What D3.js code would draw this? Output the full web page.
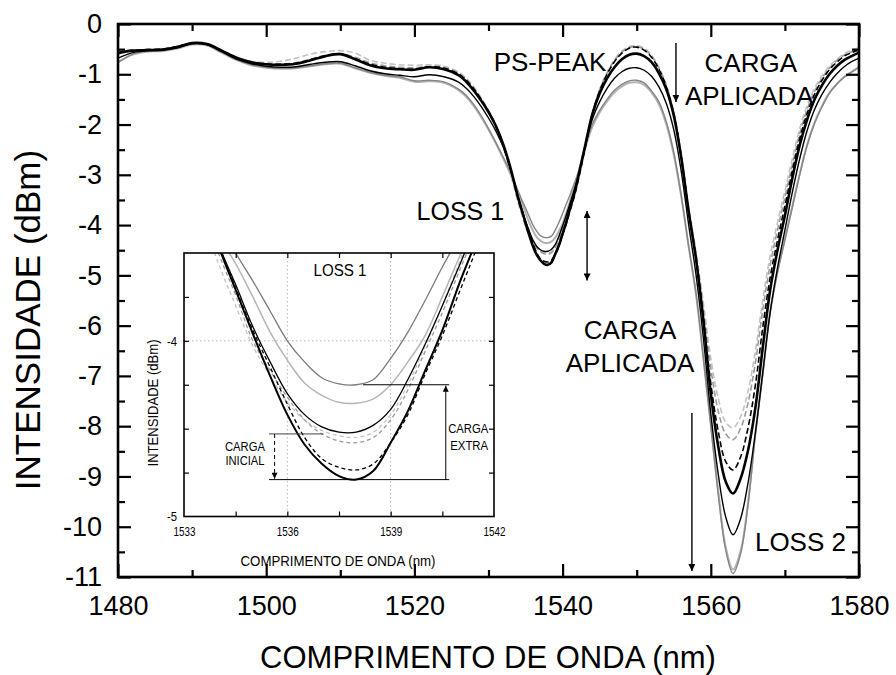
<!DOCTYPE html>
<html><head><meta charset="utf-8">
<script src="https://cdn.jsdelivr.net/npm/d3@7"></script>
<style>
body{margin:0;background:#fff}
svg{display:block}
text{font-family:"Liberation Sans",Arial,Helvetica,sans-serif;fill:#000}
</style>
</head><body>
<svg id="chart" width="896" height="675"></svg>
<script>
// ---------------- DATA ----------------
const wavelength = [1480,1482,1484,1486,1488,1490,1492,1494,1496,1498,1500,1502,1504,1506,1508,1510,1512,1514,1516,1518,1520,1522,1524,1526,
  1527,1528,1529,1530,1531,1532,1533,1534,
  1534.5,1535,1535.5,1536,1536.5,1537,1537.5,1538,1538.5,1539,1539.5,1540,1540.5,1541,1541.5,
  1542,1543,1544,1545,1546,1547,1548,1549,1550,1551,1552,1553,1554,1555,1556,1557,1558,1559,1560,1561,1562,1563,1564,1565,1566,1567,1568,1569,1570,1571,1572,1573,1574,1575,1576,1577,1578,1579,1580];

// black thick solid
const serieA = [-0.58,-0.53,-0.52,-0.51,-0.46,-0.38,-0.40,-0.53,-0.67,-0.76,-0.80,-0.81,-0.79,-0.72,-0.64,-0.60,-0.70,-0.82,-0.88,-0.90,-0.91,-0.86,-0.90,-1.02,
  -1.15,-1.32,-1.52,-1.75,-2.03,-2.40,-2.88,-3.46,
  -3.71,-3.96,-4.20,-4.42,-4.59,-4.70,-4.77,-4.79,-4.74,-4.58,-4.40,-4.17,-3.94,-3.67,-3.42,
  -3.12,-2.45,-1.80,-1.38,-1.08,-0.86,-0.70,-0.61,-0.59,-0.64,-0.76,-0.98,-1.30,-1.82,-2.65,-3.72,-4.67,-5.90,-7.35,-8.40,-9.10,-9.34,-9.05,-8.50,-7.65,-6.45,-5.30,-4.50,-3.81,-3.07,-2.41,-1.90,-1.50,-1.22,-1.00,-0.84,-0.72,-0.64,-0.57];
// black dashed
const serieB = [-0.57,-0.53,-0.51,-0.50,-0.45,-0.38,-0.41,-0.54,-0.68,-0.77,-0.80,-0.80,-0.78,-0.71,-0.63,-0.60,-0.69,-0.80,-0.86,-0.89,-0.90,-0.85,-0.88,-1.00,
  -1.12,-1.29,-1.50,-1.74,-2.03,-2.40,-2.90,-3.45,
  -3.70,-3.94,-4.15,-4.36,-4.55,-4.67,-4.72,-4.735,-4.70,-4.58,-4.42,-4.19,-3.97,-3.72,-3.47,
  -3.18,-2.50,-1.80,-1.33,-1.00,-0.75,-0.58,-0.48,-0.46,-0.52,-0.66,-0.90,-1.25,-1.78,-2.62,-3.70,-4.65,-5.85,-7.15,-8.10,-8.70,-8.87,-8.62,-8.05,-7.20,-6.05,-5.05,-4.30,-3.62,-2.92,-2.28,-1.78,-1.40,-1.12,-0.91,-0.76,-0.64,-0.57,-0.52];
// mid-gray dashed
const serieC = [-0.56,-0.52,-0.51,-0.50,-0.45,-0.38,-0.41,-0.54,-0.68,-0.77,-0.80,-0.80,-0.77,-0.70,-0.62,-0.59,-0.66,-0.77,-0.83,-0.86,-0.87,-0.84,-0.86,-0.98,
  -1.10,-1.27,-1.48,-1.73,-2.03,-2.42,-2.94,-3.50,
  -3.74,-4.00,-4.17,-4.32,-4.45,-4.53,-4.57,-4.58,-4.55,-4.45,-4.28,-4.06,-3.84,-3.60,-3.36,
  -3.08,-2.45,-1.80,-1.32,-0.98,-0.73,-0.56,-0.47,-0.45,-0.50,-0.64,-0.88,-1.23,-1.76,-2.60,-3.68,-4.60,-5.70,-6.85,-7.70,-8.15,-8.27,-8.05,-7.55,-6.75,-5.70,-4.80,-4.10,-3.45,-2.80,-2.18,-1.70,-1.34,-1.08,-0.88,-0.73,-0.62,-0.55,-0.50];
// light gray dashed
const serieD = [-0.55,-0.52,-0.51,-0.50,-0.45,-0.38,-0.41,-0.53,-0.66,-0.74,-0.76,-0.74,-0.68,-0.60,-0.55,-0.53,-0.58,-0.72,-0.78,-0.81,-0.82,-0.81,-0.84,-0.96,
  -1.08,-1.25,-1.47,-1.73,-2.05,-2.46,-3.00,-3.56,
  -3.80,-4.03,-4.20,-4.35,-4.45,-4.51,-4.54,-4.55,-4.52,-4.42,-4.25,-4.03,-3.80,-3.55,-3.30,
  -3.03,-2.42,-1.78,-1.30,-0.96,-0.71,-0.54,-0.45,-0.43,-0.48,-0.62,-0.86,-1.22,-1.75,-2.58,-3.62,-4.52,-5.55,-6.65,-7.45,-7.92,-8.03,-7.82,-7.32,-6.52,-5.50,-4.62,-3.95,-3.32,-2.68,-2.08,-1.62,-1.28,-1.03,-0.84,-0.70,-0.59,-0.52,-0.48];
// black thin solid
const serieE = [-0.68,-0.57,-0.53,-0.52,-0.47,-0.39,-0.41,-0.55,-0.70,-0.79,-0.84,-0.86,-0.85,-0.80,-0.76,-0.75,-0.83,-0.93,-0.99,-1.02,-1.05,-1.01,-1.05,-1.16,
  -1.28,-1.44,-1.64,-1.87,-2.13,-2.45,-2.90,-3.45,
  -3.68,-3.92,-4.12,-4.30,-4.42,-4.49,-4.52,-4.52,-4.48,-4.39,-4.22,-4.02,-3.80,-3.57,-3.33,
  -3.08,-2.48,-1.90,-1.55,-1.28,-1.08,-0.95,-0.88,-0.87,-0.92,-1.04,-1.25,-1.58,-2.10,-2.92,-3.98,-4.98,-6.25,-7.75,-8.95,-9.80,-10.16,-9.85,-9.15,-8.15,-6.95,-5.75,-4.85,-4.10,-3.35,-2.68,-2.12,-1.70,-1.40,-1.17,-0.99,-0.85,-0.75,-0.68];
// light gray solid
const serieF = [-0.76,-0.61,-0.55,-0.54,-0.49,-0.41,-0.43,-0.57,-0.72,-0.82,-0.87,-0.89,-0.88,-0.84,-0.80,-0.79,-0.88,-0.97,-1.03,-1.07,-1.15,-1.14,-1.17,-1.32,
  -1.45,-1.63,-1.85,-2.10,-2.38,-2.68,-3.00,-3.40,
  -3.56,-3.75,-3.95,-4.11,-4.24,-4.31,-4.35,-4.355,-4.33,-4.25,-4.12,-3.97,-3.75,-3.52,-3.28,
  -3.05,-2.50,-2.05,-1.76,-1.54,-1.36,-1.24,-1.17,-1.16,-1.21,-1.36,-1.60,-2.00,-2.60,-3.42,-4.42,-5.38,-6.65,-7.95,-9.28,-10.40,-10.85,-10.50,-9.55,-8.15,-6.95,-5.72,-4.92,-4.27,-3.62,-2.98,-2.40,-1.96,-1.63,-1.37,-1.19,-1.05,-0.95,-0.85];
// dark gray solid
const serieG = [-0.77,-0.60,-0.54,-0.53,-0.48,-0.40,-0.42,-0.56,-0.71,-0.81,-0.86,-0.88,-0.87,-0.83,-0.79,-0.78,-0.87,-0.96,-1.02,-1.05,-1.13,-1.12,-1.15,-1.30,
  -1.42,-1.60,-1.82,-2.08,-2.36,-2.65,-2.96,-3.32,
  -3.50,-3.66,-3.83,-4.00,-4.12,-4.21,-4.245,-4.25,-4.22,-4.10,-3.95,-3.77,-3.58,-3.40,-3.20,
  -3.00,-2.45,-2.00,-1.72,-1.50,-1.32,-1.20,-1.13,-1.12,-1.17,-1.33,-1.55,-1.95,-2.55,-3.40,-4.40,-5.35,-6.65,-8.00,-9.35,-10.45,-10.93,-10.55,-9.60,-8.20,-7.00,-5.75,-4.95,-4.30,-3.65,-3.00,-2.42,-1.98,-1.65,-1.38,-1.20,-1.06,-0.96,-0.86];

const xMajorTicks = [1480,1500,1520,1540,1560,1580];
const xMinorTicks = [1490,1510,1530,1550,1570];
const yMajorTicks = [0,-1,-2,-3,-4,-5,-6,-7,-8,-9,-10,-11];
const yMinorTicks = [-0.5,-1.5,-2.5,-3.5,-4.5,-5.5,-6.5,-7.5,-8.5,-9.5,-10.5];
const insetXLabels = [1533,1536,1539,1542];
const insetXTicks = [1534.5,1536,1537.5,1539,1540.5];
const insetYLabels = [-4,-5];
const insetYTicks = [-3.75,-4,-4.25,-4.5,-4.75];

const xTitle = "COMPRIMENTO DE ONDA (nm)";
const yTitle = "INTENSIDADE (dBm)";

// ---------------- STYLES ----------------
const styles = {
  D:{series:serieD, main:{c:"#c3c3c3",w:1.6,d:"6,3"}, inset:{c:"#c3c3c3",w:1.3,d:"4,3"}},
  C:{series:serieC, main:{c:"#9a9a9a",w:1.6,d:"6,3"}, inset:{c:"#9a9a9a",w:1.3,d:"4,3"}},
  F:{series:serieF, main:{c:"#b3b3b3",w:2.0,d:null}, inset:{c:"#b5b5b5",w:1.5,d:null}},
  G:{series:serieG, main:{c:"#858585",w:1.4,d:null}, inset:{c:"#7a7a7a",w:1.3,d:null}},
  E:{series:serieE, main:{c:"#000",w:1.4,d:null}, inset:{c:"#000",w:1.3,d:null}},
  B:{series:serieB, main:{c:"#000",w:1.6,d:"6,3"}, inset:{c:"#000",w:1.3,d:"4,3"}},
  A:{series:serieA, main:{c:"#000",w:2.6,d:null}, inset:{c:"#000",w:2.0,d:null}}
};
const drawOrder = ["D","C","F","G","E","B","A"];

// ---------------- CHART ----------------
const svg = d3.select("#chart");
const W = 896, H = 675;
svg.append("rect").attr("width",W).attr("height",H).attr("fill","#fff");

const x = d3.scaleLinear().domain([1480,1580]).range([118,859]);
const y = d3.scaleLinear().domain([0,-11]).range([24,577]);

const defs = svg.append("defs");
defs.append("clipPath").attr("id","clipMain").append("rect")
  .attr("x",x(1480)).attr("y",y(0)).attr("width",x(1580)-x(1480)).attr("height",y(-11)-y(0));

function marker(id, w, h){
  defs.append("marker").attr("id",id).attr("viewBox","0 0 10 10")
    .attr("refX",10).attr("refY",5).attr("markerUnits","userSpaceOnUse")
    .attr("markerWidth",w).attr("markerHeight",h).attr("orient","auto-start-reverse")
    .append("path").attr("d","M0,0 L10,5 L0,10 z").attr("fill","#000");
}
marker("arr",10,7);
marker("arrS",8,6);

const pts = (s) => wavelength.map((w,i)=>[w,s[i]]);

// main curves
const gMain = svg.append("g").attr("clip-path","url(#clipMain)");
const lineMain = d3.line().x(d=>x(d[0])).y(d=>y(d[1])).curve(d3.curveCatmullRom.alpha(0.5));
drawOrder.forEach(k=>{
  const st = styles[k];
  gMain.append("path").datum(pts(st.series)).attr("d",lineMain)
    .attr("fill","none").attr("stroke",st.main.c).attr("stroke-width",st.main.w)
    .attr("stroke-dasharray",st.main.d).attr("stroke-linejoin","round");
});

// main axes (ticks inward)
const fmt = d=>String(d);
const axB = svg.append("g").attr("transform",`translate(0,${y(-11)})`)
  .call(d3.axisBottom(x).tickValues(xMajorTicks).tickSize(-13).tickPadding(19).tickFormat(fmt));
const axBm = svg.append("g").attr("transform",`translate(0,${y(-11)})`)
  .call(d3.axisBottom(x).tickValues(xMinorTicks).tickSize(-7).tickFormat(""));
const axT = svg.append("g").attr("transform",`translate(0,${y(0)})`)
  .call(d3.axisTop(x).tickValues(xMajorTicks).tickSize(-13).tickFormat(""));
const axTm = svg.append("g").attr("transform",`translate(0,${y(0)})`)
  .call(d3.axisTop(x).tickValues(xMinorTicks).tickSize(-7).tickFormat(""));
const axL = svg.append("g").attr("transform",`translate(${x(1480)},0)`)
  .call(d3.axisLeft(y).tickValues(yMajorTicks).tickSize(-13).tickPadding(16).tickFormat(fmt));
const axLm = svg.append("g").attr("transform",`translate(${x(1480)},0)`)
  .call(d3.axisLeft(y).tickValues(yMinorTicks).tickSize(-7).tickFormat(""));
const axR = svg.append("g").attr("transform",`translate(${x(1580)},0)`)
  .call(d3.axisRight(y).tickValues(yMajorTicks).tickSize(-13).tickFormat(""));
const axRm = svg.append("g").attr("transform",`translate(${x(1580)},0)`)
  .call(d3.axisRight(y).tickValues(yMinorTicks).tickSize(-7).tickFormat(""));
[axB,axBm,axT,axTm,axL,axLm,axR,axRm].forEach(g=>{
  g.select(".domain").remove();
  g.selectAll(".tick line").attr("stroke","#000").attr("stroke-width",2.2);
  g.selectAll(".tick text").attr("font-size",27).attr("font-family",null).attr("fill","#000");
});
svg.append("rect").attr("x",x(1480)).attr("y",y(0)).attr("width",x(1580)-x(1480)).attr("height",y(-11)-y(0))
  .attr("fill","none").attr("stroke","#000").attr("stroke-width",2.6);

// axis titles
svg.append("text").attr("x",488).attr("y",657).attr("text-anchor","middle")
  .attr("dominant-baseline","central").attr("font-size",31).text(xTitle);
svg.append("text").attr("transform","translate(27,320) rotate(-90)").attr("text-anchor","middle")
  .attr("dominant-baseline","central").attr("font-size",35).text(yTitle);

// main annotations
function label(tx, ty, txt, size){
  svg.append("text").attr("x",tx).attr("y",ty).attr("text-anchor","middle")
    .attr("dominant-baseline","central").attr("font-size",size).text(txt);
}
label(x(1538.3), y(-0.75), "PS-PEAK", 26);
label(x(1565.4), y(-0.77), "CARGA", 26);
label(x(1565.2), y(-1.43), "APLICADA", 26);
label(x(1526.2), y(-3.72), "LOSS 1", 25);
label(x(1549.1), y(-6.09), "CARGA", 26);
label(x(1549.1), y(-6.74), "APLICADA", 26);
label(x(1572.1), y(-10.3), "LOSS 2", 26);

function arrow(x1,y1,x2,y2,both,mk,dash,sw){
  svg.append("line").attr("x1",x1).attr("y1",y1).attr("x2",x2).attr("y2",y2)
    .attr("stroke","#000").attr("stroke-width",sw||1.4).attr("stroke-dasharray",dash||null)
    .attr("marker-end",`url(#${mk})`).attr("marker-start",both?`url(#${mk})`:null);
}
arrow(x(1555.3), y(-0.38), x(1555.3), y(-1.55), false, "arr");
arrow(x(1543.3), y(-3.72), x(1543.3), y(-5.1), true, "arr");
arrow(x(1557.45), y(-7.74), x(1557.45), y(-10.88), false, "arr");

// ---------------- INSET ----------------
const ix = d3.scaleLinear().domain([1533,1542]).range([184,494]);
const iy = d3.scaleLinear().domain([-3.5,-5]).range([253,516.5]);
const ig = svg.append("g");
ig.append("rect").attr("x",ix(1533)).attr("y",iy(-3.5)).attr("width",ix(1542)-ix(1533)).attr("height",iy(-5)-iy(-3.5)).attr("fill","#fff");
defs.append("clipPath").attr("id","clipInset").append("rect")
  .attr("x",ix(1533)).attr("y",iy(-3.5)).attr("width",ix(1542)-ix(1533)).attr("height",iy(-5)-iy(-3.5));

// grid
const grid = ig.append("g").attr("stroke","#b8b8b8").attr("stroke-width",1).attr("stroke-dasharray","1.5,2.5");
[1536,1539].forEach(v=>grid.append("line").attr("x1",ix(v)).attr("x2",ix(v)).attr("y1",iy(-3.5)).attr("y2",iy(-5)));
grid.append("line").attr("x1",ix(1533)).attr("x2",ix(1542)).attr("y1",iy(-4)).attr("y2",iy(-4));

const gIn = ig.append("g").attr("clip-path","url(#clipInset)");
const lineIn = d3.line().x(d=>ix(d[0])).y(d=>iy(d[1])).curve(d3.curveCatmullRom.alpha(0.5));
drawOrder.forEach(k=>{
  const st = styles[k];
  gIn.append("path").datum(pts(st.series)).attr("d",lineIn)
    .attr("fill","none").attr("stroke",st.inset.c).attr("stroke-width",st.inset.w)
    .attr("stroke-dasharray",st.inset.d).attr("stroke-linejoin","round");
});

// inset axes
const iB = ig.append("g").attr("transform",`translate(0,${iy(-5)})`)
  .call(d3.axisBottom(ix).tickValues(insetXLabels).tickSize(0).tickPadding(10).tickFormat(fmt));
const iBt = ig.append("g").attr("transform",`translate(0,${iy(-5)})`)
  .call(d3.axisBottom(ix).tickValues(insetXTicks).tickSize(-5).tickFormat(""));
const iTt = ig.append("g").attr("transform",`translate(0,${iy(-3.5)})`)
  .call(d3.axisTop(ix).tickValues(insetXTicks).tickSize(-5).tickFormat(""));
const iL = ig.append("g").attr("transform",`translate(${ix(1533)},0)`)
  .call(d3.axisLeft(iy).tickValues(insetYLabels).tickSize(0).tickPadding(7).tickFormat(fmt));
const iLt = ig.append("g").attr("transform",`translate(${ix(1533)},0)`)
  .call(d3.axisLeft(iy).tickValues(insetYTicks).tickSize(-5).tickFormat(""));
const iRt = ig.append("g").attr("transform",`translate(${ix(1542)},0)`)
  .call(d3.axisRight(iy).tickValues(insetYTicks).tickSize(-5).tickFormat(""));
[iB,iBt,iTt,iL,iLt,iRt].forEach(g=>{
  g.select(".domain").remove();
  g.selectAll(".tick line").attr("stroke","#000").attr("stroke-width",1.2);
  g.selectAll(".tick text").attr("font-size",13).attr("font-family",null).attr("fill","#000");
});
iB.selectAll(".tick text").attr("textLength",22).attr("lengthAdjust","spacingAndGlyphs");
iL.selectAll(".tick text").attr("textLength",10).attr("lengthAdjust","spacingAndGlyphs");
ig.append("rect").attr("x",ix(1533)).attr("y",iy(-3.5)).attr("width",ix(1542)-ix(1533)).attr("height",iy(-5)-iy(-3.5))
  .attr("fill","none").attr("stroke","#000").attr("stroke-width",1.6);

function ilabel(tx,ty,txt,size,len,rot){
  const t = ig.append("text").attr("text-anchor","middle").attr("dominant-baseline","central")
    .attr("font-size",size).attr("textLength",len).attr("lengthAdjust","spacingAndGlyphs").text(txt);
  if(rot) t.attr("transform",`translate(${tx},${ty}) rotate(-90)`);
  else t.attr("x",tx).attr("y",ty);
}
ilabel(338, 560, xTitle, 15, 195);
ilabel(152, 403, yTitle, 15, 127, true);
ilabel(ix(1537.53), iy(-3.6), "LOSS 1", 16, 53);
ilabel(ix(1534.77), iy(-4.605), "CARGA", 12.5, 40);
ilabel(ix(1534.77), iy(-4.685), "INICIAL", 12.5, 39);
ilabel(ix(1541.25), iy(-4.50), "CARGA", 12.5, 40);
ilabel(ix(1541.28), iy(-4.60), "EXTRA", 12.5, 38);

// inset annotation lines
const ann = ig.append("g").attr("stroke","#000").attr("stroke-width",1);
ann.append("line").attr("x1",ix(1538.2)).attr("x2",ix(1540.7)).attr("y1",iy(-4.25)).attr("y2",iy(-4.25));
ann.append("line").attr("x1",ix(1535.47)).attr("x2",ix(1540.7)).attr("y1",iy(-4.79)).attr("y2",iy(-4.79));
ann.append("line").attr("x1",ix(1535.47)).attr("x2",ix(1537.04)).attr("y1",iy(-4.53)).attr("y2",iy(-4.53)).attr("stroke","#444");
ann.append("line").attr("x1",ix(1540.6)).attr("x2",ix(1540.6)).attr("y1",iy(-4.79)).attr("y2",iy(-4.255)).attr("marker-end","url(#arrS)");
ann.append("line").attr("x1",ix(1535.63)).attr("x2",ix(1535.63)).attr("y1",iy(-4.53)).attr("y2",iy(-4.785))
  .attr("stroke-dasharray","4,3").attr("marker-end","url(#arrS)");
</script>
</body></html>
